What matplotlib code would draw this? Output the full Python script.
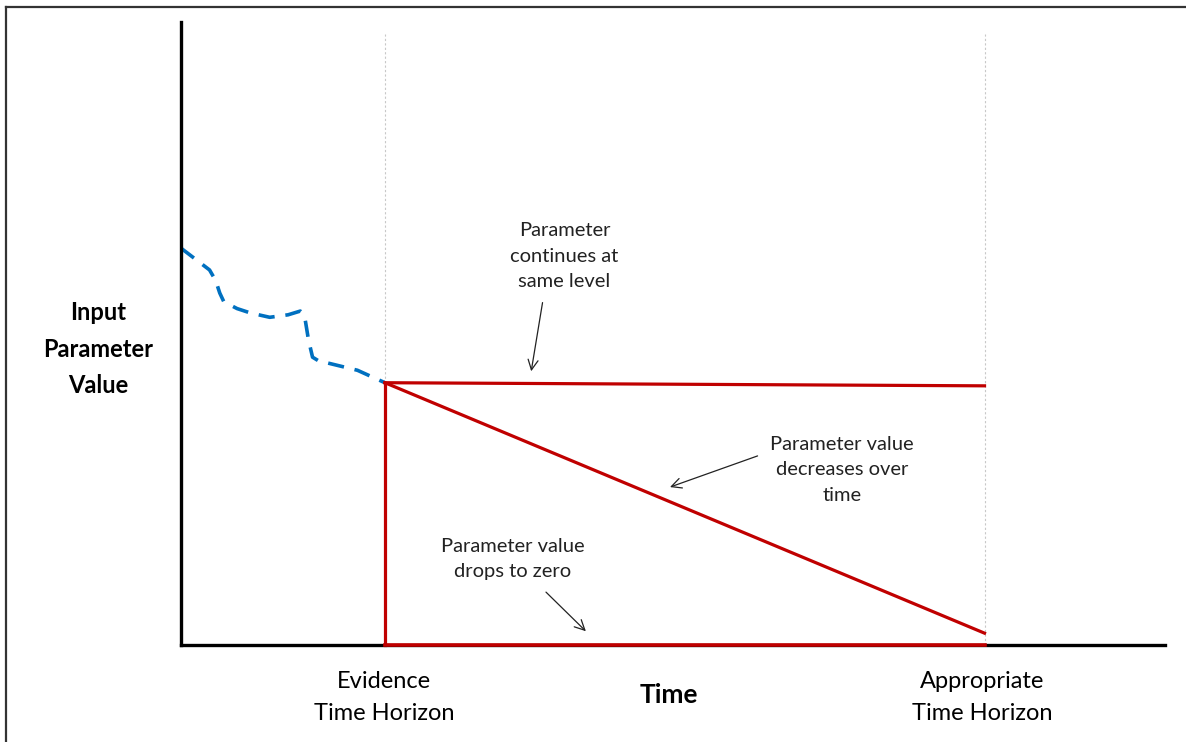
import numpy as np
import matplotlib
matplotlib.use('Agg')
import matplotlib.pyplot as plt
from matplotlib.lines import Line2D

plt.rcParams['font.family'] = ['Lato', 'DejaVu Sans']

# observed (evidence) period - blue dashed trace
obs_t = [0.0, 0.28, 0.34, 0.38, 0.42, 0.55, 0.68, 0.87, 1.05, 1.17, 1.21, 1.25, 1.29, 1.36, 1.43, 1.73, 2.0]
obs_v = [6.37, 6.02, 5.85, 5.65, 5.51, 5.40, 5.33, 5.26, 5.30, 5.36, 5.30, 4.90, 4.62, 4.55, 4.53, 4.41, 4.21]

evidence_h = 2.0
appropriate_h = 7.88
t_max = 9.65
v_start = 4.21

# three scenarios beyond the evidence horizon
same_level = [4.21, 4.16]
decreasing = [4.21, 0.19]
drop_zero = [0.0, 0.0]

fig = plt.figure(figsize=(11.86, 7.42), dpi=100)
ax = fig.add_axes([181 / 1186, 97 / 742, 984 / 1186, 623 / 742])
ax.set_xlim(0, t_max)
ax.set_ylim(0, 10)
ax.set_xticks([])
ax.set_yticks([])
for s in ['top', 'right']:
    ax.spines[s].set_visible(False)
for s in ['left', 'bottom']:
    ax.spines[s].set_linewidth(2.4)
    ax.spines[s].set_color('black')

red = '#C00000'
blue = '#0070C0'

ax.vlines([evidence_h, appropriate_h], 0, 9.8, colors='#c8c8c8', linestyles=(0, (2, 2)), linewidth=0.8)

ax.plot(obs_t, obs_v, color=blue, lw=2.6, dashes=(4.5, 3.0), solid_capstyle='butt')

ax.plot([evidence_h, appropriate_h], same_level, color=red, lw=2.3)
ax.plot([evidence_h, appropriate_h], decreasing, color=red, lw=2.3)
ax.plot([evidence_h, evidence_h], [v_start, 0], color=red, lw=2.3, clip_on=False)
ax.plot([evidence_h, appropriate_h], drop_zero, color=red, lw=2.6, clip_on=False, zorder=5)

fs = 14.5
tc = '#222222'
ax.text(3.76, 6.24, 'Parameter\ncontinues at\nsame level', ha='center', va='center',
        fontsize=fs, color=tc, linespacing=1.62)
ax.text(6.48, 2.81, 'Parameter value\ndecreases over\ntime', ha='center', va='center',
        fontsize=fs, color=tc, linespacing=1.62)
ax.text(3.25, 1.38, 'Parameter value\ndrops to zero', ha='center', va='center',
        fontsize=fs, color=tc, linespacing=1.62)

arw = dict(arrowstyle='->', color='#222222', lw=0.9, mutation_scale=18)
ax.annotate('', xy=(3.43, 4.35), xytext=(3.55, 5.54), arrowprops=arw)
ax.annotate('', xy=(4.77, 2.52), xytext=(5.68, 3.05), arrowprops=arw)
ax.annotate('', xy=(3.99, 0.19), xytext=(3.56, 0.88), arrowprops=arw)

ax.text(-0.81, 4.75, 'Input\nParameter\nValue', ha='center', va='center',
        fontsize=17, fontweight='bold', color='black', linespacing=1.7, clip_on=False)
ax.text(4.78, -0.80, 'Time', ha='center', va='center',
        fontsize=19, fontweight='bold', color='black', clip_on=False)
ax.text(1.99, -0.85, 'Evidence\nTime Horizon', ha='center', va='center',
        fontsize=17, color='black', linespacing=1.65, clip_on=False)
ax.text(7.86, -0.85, 'Appropriate\nTime Horizon', ha='center', va='center',
        fontsize=17, color='black', linespacing=1.65, clip_on=False)

# outer frame (top and left edges)
fig.add_artist(Line2D([6 / 1186, 1], [1 - 7 / 742, 1 - 7 / 742], color='#333333', lw=1.6))
fig.add_artist(Line2D([6 / 1186, 6 / 1186], [0, 1 - 7 / 742], color='#333333', lw=1.6))

fig.savefig('out.png', dpi=100)
